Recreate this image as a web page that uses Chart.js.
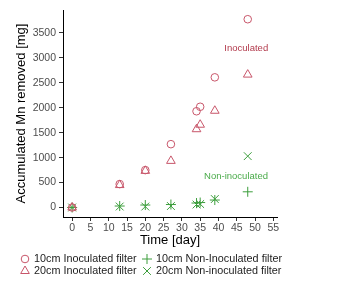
<!DOCTYPE html>
<html>
<head>
<meta charset="utf-8">
<script src="https://cdn.jsdelivr.net/npm/chart.js@4.4.1/dist/chart.umd.min.js"></script>
<style>
    html, body { margin: 0; padding: 0; background: #fff; }
    #chart { display: block; }
</style>
</head>
<body>
<canvas id="chart" width="343" height="282"></canvas>
<script>
// Sampling days
const days = [0, 13, 20, 27, 34, 35, 39, 48];

// Accumulated Mn removed [mg] per filter
const inoculated10 = [0, 470, 750, 1270, 1930, 2020, 2610, 3775];
const inoculated20 = [0, 450, 735, 935, 1570, 1660, 1940, 2665];
const nonInoculated10 = [0, 30, 50, 60, 90, 100, 150, 315];
const nonInoculated20 = [0, 20, 20, 30, 60, 70, 170, 1030];

// Axis ticks
const xTicks = [0, 5, 10, 15, 20, 25, 30, 35, 40, 45, 50, 55];
const yTicks = [0, 500, 1000, 1500, 2000, 2500, 3000, 3500];

// Series labels
const seriesLabels = [
    '10cm Inoculated filter',
    '20cm Inoculated filter',
    '10cm Non-Inoculated filter',
    '20cm Non-inoculated filter'
];

// In-plot group labels
const groupLabels = ['Inoculated', 'Non-inoculated'];
const groupLabelX = [47.6, 44.8];
const groupLabelY = [3200, 615];

const FONT = "'Liberation Sans', Arial, sans-serif";
const RED = '#c8566a';
const GREEN = '#3d9e3d';

function points(ys) {
    return days.map((d, i) => ({ x: d, y: ys[i] }));
}

function series(label, ys, color, style, radius) {
    return {
        label: label,
        data: points(ys),
        borderColor: color,
        backgroundColor: 'rgba(0,0,0,0)',
        pointStyle: style,
        pointRadius: radius,
        pointBorderWidth: 1,
        showLine: false
    };
}

/**
 * Text labels inside the panel
 */
const groupLabelPlugin = {
    id: 'groupLabels',
    afterDatasetsDraw(chart) {
        const { ctx, scales } = chart;
        const colors = [ '#b23a4c', '#4aab4a' ];
        ctx.save();
        ctx.font = '9.5px ' + FONT;
        ctx.textAlign = 'center';
        ctx.textBaseline = 'middle';
        groupLabels.forEach((txt, i) => {
            ctx.fillStyle = colors[i];
            ctx.fillText(txt, scales.x.getPixelForValue(groupLabelX[i]), scales.y.getPixelForValue(groupLabelY[i]));
        });
        ctx.restore();
    }
};

/**
 * Two-column legend under the axis title
 */
const legendPlugin = {
    id: 'gridLegend',
    afterDraw(chart) {
        const { ctx } = chart;
        // dataset index for each slot: row by row
        const order = [0, 2, 1, 3];
        const colX = [25, 147];
        const rowY = [259, 271];
        ctx.save();
        ctx.font = '10.8px ' + FONT;
        ctx.textBaseline = 'middle';
        ctx.textAlign = 'left';
        order.forEach((dsIndex, slot) => {
            const ds = chart.data.datasets[dsIndex];
            const x = colX[slot % 2];
            const y = rowY[Math.floor(slot / 2)];
            ctx.strokeStyle = ds.borderColor;
            ctx.fillStyle = 'rgba(0,0,0,0)';
            ctx.lineWidth = 1;
            Chart.helpers.drawPoint(ctx, {
                pointStyle: ds.pointStyle,
                radius: ds.pointRadius,
                borderWidth: 1,
                rotation: 0
            }, x, y);
            ctx.fillStyle = '#222';
            ctx.fillText(ds.label, x + 9, y);
        });
        ctx.restore();
    }
};

const tickFont = { family: FONT, size: 10.5 };
const titleFont = { family: FONT, size: 13 };

new Chart(document.getElementById('chart'), {
    type: 'scatter',
    data: {
        datasets: [
            series(seriesLabels[0], inoculated10, RED, 'circle', 3.8),
            series(seriesLabels[1], inoculated20, RED, 'triangle', 5),
            series(seriesLabels[2], nonInoculated10, GREEN, 'cross', 5),
            series(seriesLabels[3], nonInoculated20, GREEN, 'crossRot', 5.5)
        ]
    },
    options: {
        responsive: false,
        animation: false,
        devicePixelRatio: 1,
        layout: {
            padding: { left: 0, right: 66, top: 10, bottom: 34 }
        },
        plugins: {
            legend: { display: false },
            tooltip: { enabled: false }
        },
        scales: {
            x: {
                type: 'linear',
                min: -2.5,
                max: 56,
                afterBuildTicks: s => { s.ticks = xTicks.map(v => ({ value: v })); },
                afterFit: s => { s.height = 31; },
                ticks: { font: tickFont, color: '#4d4d4d', padding: 1, maxRotation: 0, autoSkip: false, callback: v => String(v) },
                grid: { drawOnChartArea: false, drawTicks: true, tickLength: 4, color: '#333' },
                border: { display: true, color: '#000', width: 1 },
                title: { display: true, text: 'Time [day]', font: titleFont, color: '#000', padding: 0 }
            },
            y: {
                type: 'linear',
                min: -190,
                max: 3960,
                afterBuildTicks: s => { s.ticks = yTicks.map(v => ({ value: v })); },
                afterFit: s => { s.width = 63; },
                ticks: { font: tickFont, color: '#4d4d4d', padding: 3, autoSkip: false, callback: v => String(v) },
                grid: { drawOnChartArea: false, drawTicks: true, tickLength: 4, color: '#333' },
                border: { display: true, color: '#000', width: 1 },
                title: { display: true, text: 'Accumulated Mn removed [mg]', font: titleFont, color: '#000', padding: { top: 14, bottom: 0 } }
            }
        }
    },
    plugins: [groupLabelPlugin, legendPlugin]
});
</script>
</body>
</html>
